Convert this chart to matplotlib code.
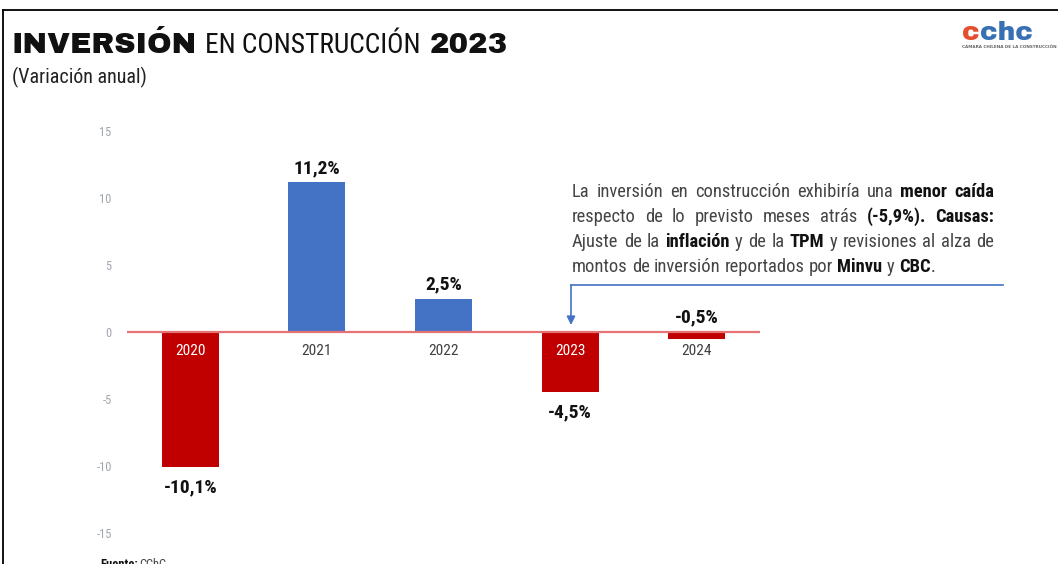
import matplotlib
matplotlib.use("Agg")
import matplotlib.pyplot as plt
import matplotlib.font_manager as fm
from matplotlib.transforms import IdentityTransform
from matplotlib.lines import Line2D
from matplotlib.patches import FancyArrowPatch

# ---------------- data ----------------
years = ["2020", "2021", "2022", "2023", "2024"]
values = [-10.1, 11.2, 2.5, -4.5, -0.5]
value_labels = ["-10,1%", "11,2%", "2,5%", "-4,5%", "-0,5%"]
yticks = [-15, -10, -5, 0, 5, 10, 15]

title_runs = [("INVERSIÓN", "heavy", 12, 185), ("EN CONSTRUCCIÓN", "narrow", 205, 215), ("2023", "heavy", 430, 78)]
subtitle = "(Variación anual)"
note_lines = [
    [("La", 0), ("inversión", 0), ("en", 0), ("construcción", 0), ("exhibiría", 0), ("una", 0), ("menor", 1), ("caída", 1)],
    [("respecto", 0), ("de", 0), ("lo", 0), ("previsto", 0), ("meses", 0), ("atrás", 0), ("(-5,9%).", 1), ("Causas:", 1)],
    [("Ajuste", 0), ("de", 0), ("la", 0), ("inflación", 1), ("y", 0), ("de", 0), ("la", 0), ("TPM", 1), ("y", 0), ("revisiones", 0), ("al", 0), ("alza", 0), ("de", 0)],
    [("montos", 0), ("de", 0), ("inversión", 0), ("reportados", 0), ("por", 0), ("Minvu", 1), ("y", 0), ("CBC", 1), (".", 0)],
]
source_bold, source_rest = "Fuente:", "CChC"
logo_runs = [("c", "#E4502F"), ("chc", "#3770B3")]
logo_caption = "CÁMARA CHILENA DE LA CONSTRUCCIÓN"

# ---------------- fonts ----------------
names = {f.name for f in fm.fontManager.ttflist}
def first_available(cands):
    for c in cands:
        if c in names:
            return c
    return "DejaVu Sans"
NARROW = first_available(["Liberation Sans Narrow", "Arial Narrow", "Roboto Condensed", "Archivo Narrow", "Liberation Sans"])
HEAVY = first_available(["Arial Black", "Archivo Black", "DejaVu Sans"])

RED = "#C00000"
BLUE = "#4472C4"
W, H = 1058, 564

fig = plt.figure(figsize=(W / 100, H / 100), dpi=100)
fig.patch.set_facecolor("white")
renderer = fig.canvas.get_renderer()

def px(x, y):
    return x, H - y

def text_w(s, family, weight="normal", size=10, style="normal"):
    t = fig.text(0, 0, s, fontfamily=family, fontweight=weight, fontsize=size, fontstyle=style)
    w = t.get_window_extent(renderer).width
    t.remove()
    return w

def fit(s, family, weight, target):
    return 10 * target / text_w(s, family, weight, 10)

# ---------------- axes ----------------
ax = fig.add_axes([127 / W, (H - 533) / H, (760 - 127) / W, (533 - 131) / H])
colors = [RED if v < 0 else BLUE for v in values]
xs = list(range(len(years)))
ax.bar(xs, values, width=0.45, color=colors, zorder=2)
ax.axhline(0, color="#E57373", lw=1.6, zorder=3)
ax.set_xlim(-0.5, len(years) - 0.5)
ax.set_ylim(-15, 15)
ax.set_yticks(yticks)
tick_fs = fit("10", NARROW, "normal", 12)
ax.set_yticklabels([str(t) for t in yticks], fontfamily=NARROW, fontsize=tick_fs, color="#A0A6AE")
ax.tick_params(axis="y", length=0, pad=11)
ax.set_xticks([])
for s in ax.spines.values():
    s.set_visible(False)

cat_fs = fit("2021", NARROW, "normal", 30)
val_fs = fit("11,2%", NARROW, "bold", 47)
for i, (v, lab, yr) in enumerate(zip(values, value_labels, years)):
    inside = v < 0 and abs(v) > 1.5
    ax.annotate(yr, xy=(i, 0), xytext=(0, -19), textcoords="offset pixels",
                ha="center", va="center", fontfamily=NARROW, fontsize=cat_fs,
                color="white" if inside else "#404040", zorder=4)
    if v >= 0 or abs(v) < 1:
        base = max(v, 0)
        ax.annotate(lab, xy=(i, base), xytext=(0, 10 if v < 0 else 9), textcoords="offset pixels",
                    ha="center", va="baseline", fontfamily=NARROW, fontweight="bold",
                    fontsize=val_fs, color="#111111")
    else:
        ax.annotate(lab, xy=(i, v), xytext=(0, -11), textcoords="offset pixels",
                    ha="center", va="top", fontfamily=NARROW, fontweight="bold",
                    fontsize=val_fs, color="#111111")

# ---------------- title ----------------
for txt, kind, x, wt in title_runs:
    fam = HEAVY if kind == "heavy" else NARROW
    wgt = "heavy" if kind == "heavy" else "normal"
    fs = fit(txt, fam, wgt, wt)
    if kind == "heavy":
        fs = min(fs, 23)
    fig.text(*px(x, 53), txt, transform=IdentityTransform(), fontfamily=fam,
             fontweight=wgt, fontsize=fs, color="#111111", va="baseline", ha="left")

sub_fs = fit(subtitle, NARROW, "normal", 135)
fig.text(*px(12, 83), subtitle, transform=IdentityTransform(), fontfamily=NARROW,
         fontsize=sub_fs, color="#222222", va="baseline", ha="left")

# ---------------- logo ----------------
lx = 962
for txt, col in logo_runs:
    t = fig.text(*px(lx, 40), txt, transform=IdentityTransform(), fontfamily=HEAVY,
                 fontweight="heavy", fontsize=19, color=col, va="baseline", ha="left")
    lx += t.get_window_extent(renderer).width
fig.text(*px(962, 48), logo_caption, transform=IdentityTransform(),
         fontfamily="DejaVu Sans", fontweight="bold", fontsize=3.0, color="#666666",
         va="baseline", ha="left")

# ---------------- note (justified) ----------------
x0, x1 = 572, 994
baselines = [197, 222, 247, 272]
last_words = note_lines[-1]
def natural_width(words, size):
    w = sum(text_w(t, NARROW, "bold" if b else "normal", size) for t, b in words)
    sp = text_w("a a", NARROW, "normal", size) - text_w("aa", NARROW, "normal", size)
    return w + sp * (len(words) - 2), sp
nw10, _ = natural_width(last_words, 10)
NOTE_FS = 10 * (933 - 572) / nw10
_, space_w = natural_width(last_words, NOTE_FS)

for li, (words, yb) in enumerate(zip(note_lines, baselines)):
    texts = []
    for w, b in words:
        t = fig.text(0, 0, w, transform=IdentityTransform(), fontfamily=NARROW,
                     fontweight="bold" if b else "normal", fontsize=NOTE_FS,
                     color="#111111" if b else "#444444", va="baseline", ha="left")
        texts.append(t)
    widths = [t.get_window_extent(renderer).width for t in texts]
    if li == len(note_lines) - 1:
        gaps = [space_w] * (len(words) - 1)
        gaps[-1] = 0
    else:
        g = (x1 - x0 - sum(widths)) / (len(words) - 1)
        gaps = [g] * (len(words) - 1)
    xx = x0
    for k, t in enumerate(texts):
        t.set_position(px(xx, yb))
        xx += widths[k] + (gaps[k] if k < len(gaps) else 0)

fig.add_artist(Line2D([571, 1003], [H - 285, H - 285], transform=IdentityTransform(), color=BLUE, lw=1.2))
fig.add_artist(FancyArrowPatch(px(571, 285), px(571, 325), transform=IdentityTransform(),
                               arrowstyle="-|>,head_length=5,head_width=2.5", color=BLUE, lw=1.2,
                               shrinkA=0, shrinkB=0, mutation_scale=1))

# ---------------- frame & source ----------------
fig.add_artist(Line2D([3, W], [H - 10, H - 10], transform=IdentityTransform(), color="black", lw=1.3))
fig.add_artist(Line2D([3, 3], [H - 10, 0], transform=IdentityTransform(), color="black", lw=1.3))
wsrc = text_w(source_bold, NARROW, "bold", 9)
fig.text(*px(100, 568), source_bold, transform=IdentityTransform(), fontfamily=NARROW,
         fontweight="bold", fontsize=9, color="#111111", va="baseline", ha="left")
fig.text(*px(100 + wsrc + 2, 568), source_rest, transform=IdentityTransform(),
         fontfamily=NARROW, fontsize=9, color="#444444", va="baseline", ha="left")

fig.savefig("out.png", dpi=100, facecolor="white")
